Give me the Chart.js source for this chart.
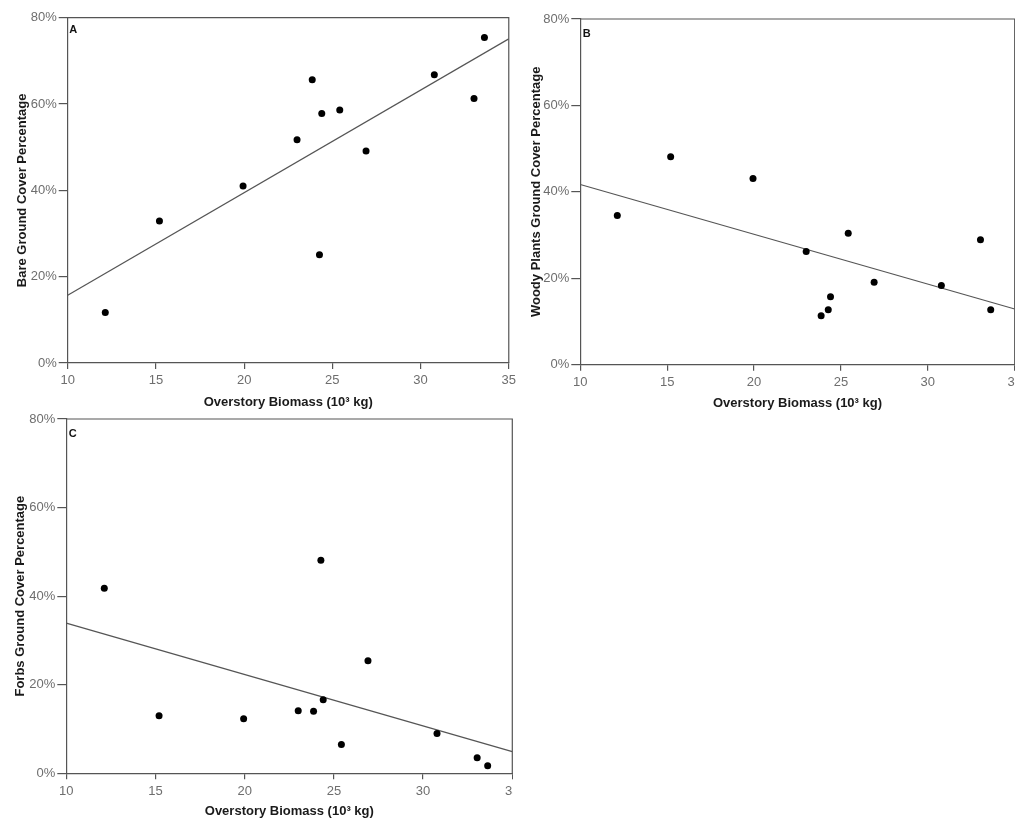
<!DOCTYPE html>
<html>
<head>
<meta charset="utf-8">
<title>Ground cover vs overstory biomass</title>
<script src="https://cdn.jsdelivr.net/npm/chart.js@4.4.1/dist/chart.umd.min.js"></script>
<style>
  html, body { margin: 0; padding: 0; background: #fff; }
  body { width: 1024px; height: 826px; position: relative; overflow: hidden; }
  .panel { position: absolute; overflow: hidden; }
  .panel canvas { position: absolute; left: 0; top: 0; }
</style>
</head>
<body>
<div class="panel" id="wrapA" style="left:0px;top:0px;width:520px;height:414px;"><canvas id="chartA" width="520" height="414"></canvas></div>
<div class="panel" id="wrapB" style="left:510px;top:0px;width:505.3px;height:415px;"><canvas id="chartB" width="530" height="415"></canvas></div>
<div class="panel" id="wrapC" style="left:0px;top:405px;width:513px;height:421px;"><canvas id="chartC" width="530" height="421"></canvas></div>

<script>
// values
let biomass = [12.13, 15.2, 19.94, 23.0, 23.86, 24.27, 24.4, 25.42, 26.91, 30.78, 33.03, 33.62];
let bare = [11.7, 32.9, 41.0, 51.7, 65.6, 25.1, 57.8, 58.6, 49.1, 66.8, 61.3, 75.4];
let woody = [34.5, 48.1, 43.1, 26.2, 11.3, 12.7, 15.7, 30.4, 19.1, 18.3, 28.9, 12.7];
let forbs = [41.8, 13.0, 12.3, 14.1, 14.0, 48.1, 16.6, 6.5, 25.4, 9.0, 3.5, 1.7];

// fitted lines, end points at the axis limits
let fitX = [10, 35];
let bareFit = [15.7, 75.1];
let woodyFit = [41.7, 12.9];
let forbsFit = [33.9, 4.9];

let xTicks = [10, 15, 20, 25, 30, 35];
let yTicks = [0, 20, 40, 60, 80];

const xTitle = "Overstory Biomass (10³ kg)";
const fontFam = "'Liberation Sans', Arial, sans-serif";
const axisColor = "#555";

// top + right edges of the plot box
const frame = {
  id: "frame",
  afterDraw(chart) {
    const {ctx, chartArea: a} = chart;
    ctx.save();
    ctx.strokeStyle = axisColor;
    ctx.lineWidth = 1.2;
    ctx.beginPath();
    ctx.moveTo(a.left, a.top);
    ctx.lineTo(a.right, a.top);
    ctx.lineTo(a.right, a.bottom);
    ctx.stroke();
    ctx.restore();
  }
};

const panelLetter = {
  id: "panelLetter",
  afterDraw(chart, args, opts) {
    const {ctx, chartArea: a} = chart;
    ctx.save();
    ctx.fillStyle = "#111";
    ctx.font = "bold 11px " + fontFam;
    ctx.textBaseline = "alphabetic";
    ctx.fillText(opts.text, a.left + opts.dx, a.top + opts.dy);
    ctx.restore();
  }
};

function makePanel(id, letter, yTitle, values, fit, geo) {
  let points = biomass.map((x, i) => ({x: x, y: values[i]}));
  let line = fitX.map((x, i) => ({x: x, y: fit[i]}));

  new Chart(id, {
    type: "scatter",
    data: {
      datasets: [
        {
          data: points,
          pointRadius: 3.5,
          pointBackgroundColor: "#000",
          pointBorderWidth: 0,
          showLine: false,
        },
        {
          data: line,
          showLine: true,
          pointRadius: 0,
          borderColor: "#555",
          borderWidth: 1.2,
          fill: false,
        },
      ],
    },
    options: {
      responsive: false,
      animation: false,
      devicePixelRatio: 1,
      layout: { padding: geo.pad },
      plugins: {
        legend: { display: false },
        tooltip: { enabled: false },
        panelLetter: { text: letter, dx: geo.ldx, dy: geo.ldy },
      },
      scales: {
        x: {
          type: "linear",
          min: xTicks[0],
          max: xTicks[xTicks.length - 1],
          afterBuildTicks: (s) => { s.ticks = xTicks.map((v) => ({value: v})); },
          afterFit: (s) => { s.height = geo.xh; },
          grid: { drawOnChartArea: false, color: axisColor, tickLength: 6, lineWidth: 1.2 },
          border: { color: axisColor, width: 1.2 },
          ticks: { color: "#6e6e6e", padding: 4, font: { family: fontFam, size: 13 }, maxRotation: 0 },
          title: {
            display: true,
            text: xTitle,
            color: "#1a1a1a",
            padding: { top: 4, bottom: 4 },
            font: { family: fontFam, size: 13, weight: "bold" },
          },
        },
        y: {
          type: "linear",
          min: yTicks[0],
          max: yTicks[yTicks.length - 1],
          afterBuildTicks: (s) => { s.ticks = yTicks.map((v) => ({value: v})); },
          afterFit: (s) => { s.width = geo.yw; },
          grid: { drawOnChartArea: false, color: axisColor, tickLength: 9, lineWidth: 1.2 },
          border: { color: axisColor, width: 1.2 },
          ticks: {
            color: "#6e6e6e",
            padding: 2,
            font: { family: fontFam, size: 13 },
            callback: (v) => v + "%",
          },
          title: {
            display: true,
            text: yTitle,
            color: "#1a1a1a",
            padding: { top: 4, bottom: 4 },
            font: { family: fontFam, size: 13, weight: "bold" },
          },
        },
      },
    },
    plugins: [frame, panelLetter],
  });
}

makePanel("chartA", "A", "Bare Ground Cover Percentage", bare, bareFit,
  { pad: { left: 10.7, top: 17.7, right: 10, bottom: 0 }, yw: 57, xh: 51, ldx: 1.5, ldy: 15.3 });

makePanel("chartB", "B", "Woody Plants Ground Cover Percentage", woody, woodyFit,
  { pad: { left: 14.2, top: 19, right: 25.3, bottom: 0 }, yw: 56.1, xh: 50.3, ldx: 2.4, ldy: 18 });

makePanel("chartC", "C", "Forbs Ground Cover Percentage", forbs, forbsFit,
  { pad: { left: 9, top: 14, right: 17.7, bottom: 3.2 }, yw: 57.3, xh: 49.5, ldx: 2.4, ldy: 17.7 });
</script>
</body>
</html>
